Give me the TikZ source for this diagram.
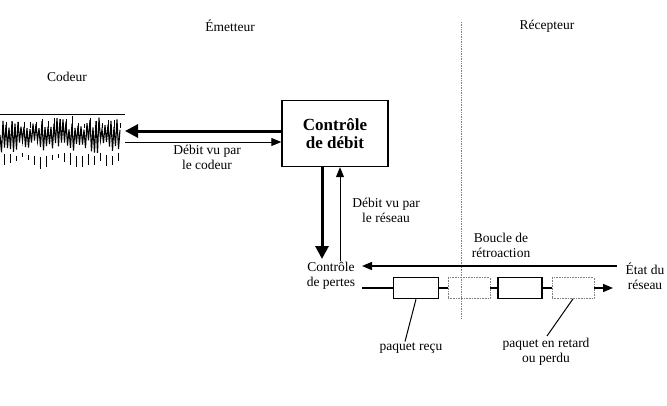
\documentclass[tikz,border=0pt]{standalone}
\usepackage{fontspec}
\setmainfont{Liberation Serif}
\usetikzlibrary{arrows.meta}
\tikzset{
  lbl/.style={font=\fontsize{13.5}{15}\selectfont, align=center, inner sep=1pt},
  bigbox/.style={draw, line width=1.4pt, minimum width=106pt, minimum height=66pt,
    font=\fontsize{17}{18}\selectfont\bfseries, align=center},
  pkt/.style={draw, line width=1.4pt, minimum width=45pt, minimum height=21pt, inner sep=0pt},
  lostpkt/.style={pkt, draw=gray, line width=0.6pt, densely dotted},
  thickarr/.style={line width=3pt, -{Triangle[length=13pt,width=13pt]}},
  thinarr/.style={line width=1pt, -{Triangle[length=10pt,width=8pt]}},
}
\begin{document}
\begin{tikzpicture}[x=1pt,y=-1pt]
\useasboundingbox (0,0) rectangle (667,405);

% titres
\node[lbl] (emetteur) at (230,26) {Émetteur};
\node[lbl] (recepteur) at (547,26) {Récepteur};
\draw[densely dotted, line width=0.7pt, gray] (461,22) -- (461,318);

% codeur
\node[lbl] (codeur) at (67,77) {Codeur};
\draw[line width=0.8pt] (0,114) -- (125,114);
\pgfmathsetseed{11}
\draw[line width=1.1pt] (0,135) \foreach \i in {1,...,80}{ -- ({1.5*\i},{135+(mod(\i,2)*2-1)*(5+13*rnd)}) };
\foreach \x in {4,10,...,120}
{
    \pgfmathsetmacro\ya{152+6*rnd}
    \pgfmathsetmacro\yb{\ya+4+8*rnd}
    \draw[line width=0.9pt] (\x,\ya) -- (\x,\yb);
    \pgfmathsetmacro\yc{116+8*rnd}
    \draw[line width=0.9pt] (\x+2,\yc) -- (\x+2,128);
}
\coordinate (wtop) at (125,131);
\coordinate (wbot) at (125,142);

% controle de debit
\node[bigbox] (ctrldebit) at (335,133.5) {Contrôle\\de débit};
\draw[thickarr] (ctrldebit.west |- wtop) -- (wtop);
\draw[thinarr] (wbot) -- (ctrldebit.west |- wbot);
\node[lbl] (vucodeur) at (207,157) {Débit vu par\\le codeur};

% controle de pertes
\node[lbl] (ctrlpertes) at (331,276) {Contrôle\\de pertes};
\coordinate (dn) at (322,259);
\coordinate (up) at (340,261);
\draw[thickarr] (ctrldebit.south -| dn) -- (dn);
\draw[thinarr] (up) -- (ctrldebit.south -| up);
\node[lbl] (vureseau) at (386,210) {Débit vu par\\le réseau};

% boucle de retroaction
\node[lbl] (etat) at (645,276) {État du\\réseau};
\node[lbl] (boucle) at (501,245) {Boucle de\\rétroaction};
\coordinate (fbstart) at (617,266);
\coordinate (fbend) at (362,266);
\draw[thinarr, line width=1.4pt] (fbstart) -- (fbend);

% paquets
\coordinate (pin) at (362,288);
\coordinate (pout) at (613,288);
\node[pkt] (p1) at (416,288) {};
\node[lostpkt, minimum width=42pt] (p2) at (469,288) {};
\node[pkt, minimum width=44pt] (p3) at (520,288) {};
\node[lostpkt, minimum width=42pt] (p4) at (573,288) {};
\draw[line width=1.4pt] (pin) -- (p1) -- (p2) -- (p3) -- (p4);
\draw[thinarr, line width=1.4pt] (p4) -- (pout);

\node[lbl] (recu) at (411,348) {paquet reçu};
\node[lbl] (perdu) at (546,352) {paquet en retard\\ou perdu};
\draw[line width=1pt] (p1.south) -- (recu.north -| 405,0);
\draw[line width=1pt] (p4.south) -- (547,336);
\end{tikzpicture}
\end{document}
